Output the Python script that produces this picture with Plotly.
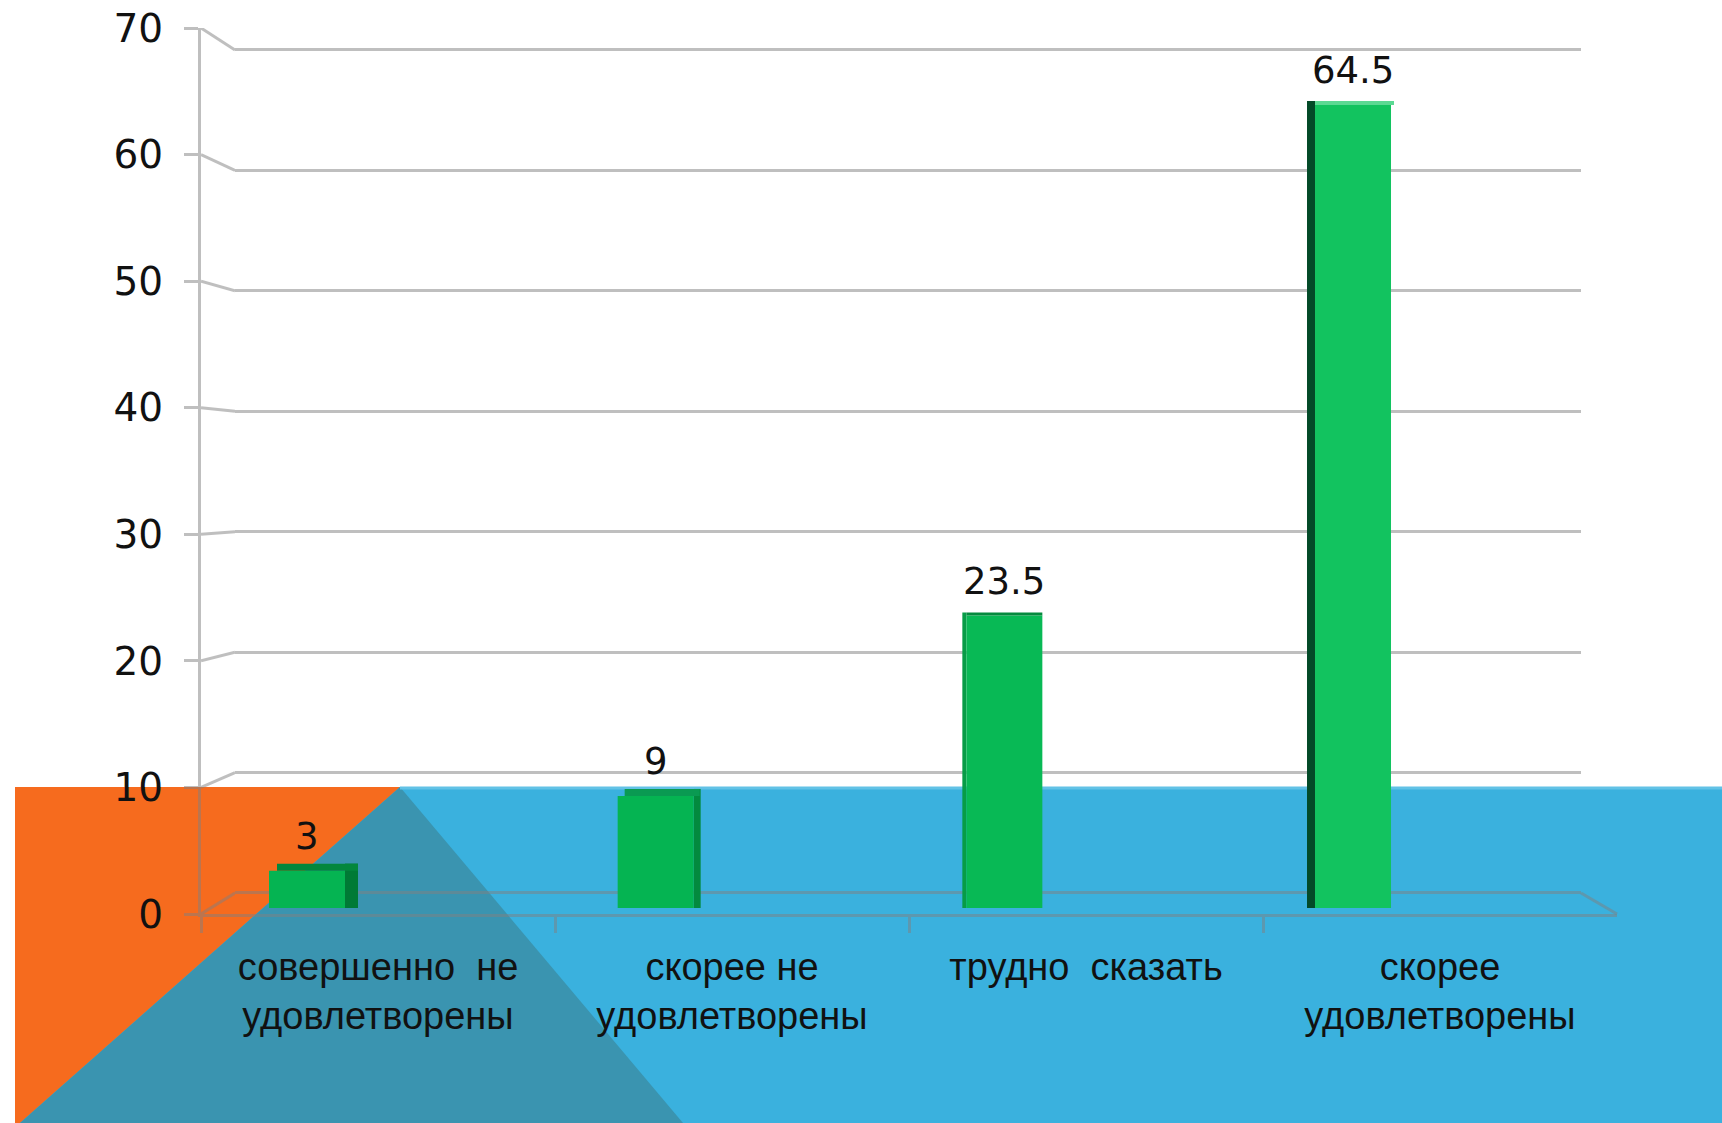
import plotly.graph_objects as go

# ---------------- data ----------------
categories = ["совершенно  не<br>удовлетворены", "скорее не<br>удовлетворены",
              "трудно  сказать", "скорее<br>удовлетворены"]
values = [3, 9, 23.5, 64.5]
y_ticks = [0, 10, 20, 30, 40, 50, 60, 70]

# ---------------- geometry / style (pixels of a 1722x1123 canvas) ----------------
W, H = 1722, 1123
fx = lambda p: p / W
fy = lambda p: 1 - p / H

FRONT_L, FRONT_R = 201, 1617        # front axis box
FRONT_BOTTOM, FRONT_TOP = 914, 28
BACK_L, BACK_R = 235, 1581          # back wall (gridlines)
BACK_BOTTOM, BACK_TOP = 893, 50
BAR_BASE = 908
K = 12.45                            # px per unit for bars
BAR_C0, BAR_STEP = 307.0, 348.67     # bar centre px of first bar, spacing
U = BAR_STEP                         # px per category unit on bar axis

GRID = "rgba(128,128,128,0.5)"
FONT = "DejaVu Sans"
CAT_FONT = "Liberation Sans"
TXT = "#111111"

front_col = ["#05B452", "#05B452", "#08B955", "#12C35F"]
side_col = ["#007A35", "#038A3E", "#079C47", "#034A28"]
side_w_px = [13, 7, 4, 8]
side_right = [True, True, False, False]
top_col = ["#03873D", "#0A9A52", "#058A3E", "#5CD993"]
top_depth_px = [7, 7, 3, 4]
top_start_px = [-30, -31, -38, -38]
top_w_px = [81, 75, 76, 79]

half = 38 / U
side_offset = [half if r else -half - w / U for r, w in zip(side_right, side_w_px)]
side_width = [w / U for w in side_w_px]

fig = go.Figure()

# invisible grid-subplot helper trace (x / y)
fig.add_trace(go.Scatter(x=[0], y=[0], mode="markers", marker=dict(opacity=0),
                         hoverinfo="skip", showlegend=False, xaxis="x", yaxis="y"))

# bar faces (x2 / y2)
fig.add_trace(go.Bar(x=categories, y=[v + d / K for v, d in zip(values, top_depth_px)],
                     width=side_width, offset=side_offset,
                     marker=dict(color=side_col, line=dict(width=0)),
                     hoverinfo="skip", showlegend=False, xaxis="x2", yaxis="y2"))
fig.add_trace(go.Bar(x=categories, y=values, width=2 * half, offset=-half,
                     marker=dict(color=front_col, line=dict(width=0)),
                     showlegend=False, xaxis="x2", yaxis="y2"))
fig.add_trace(go.Bar(x=categories, y=[d / K for d in top_depth_px], base=values,
                     width=[w / U for w in top_w_px], offset=[s / U for s in top_start_px],
                     marker=dict(color=top_col, line=dict(width=0)),
                     hoverinfo="skip", showlegend=False, xaxis="x2", yaxis="y2"))

# category-label subplot (x3 / y3)
fig.add_trace(go.Scatter(x=categories, y=[0] * len(categories), mode="markers",
                         marker=dict(opacity=0), hoverinfo="skip", showlegend=False,
                         xaxis="x3", yaxis="y3"))

# perspective connectors from front ticks to back gridlines (x4 / y3)
k3 = (FRONT_BOTTOM - FRONT_TOP) / 70
kb = (BACK_BOTTOM - BACK_TOP) / 70
cx, cy = [], []
for v in y_ticks:
    back_px = BACK_BOTTOM - kb * v
    cx += [0, 1, None]
    cy += [v, (FRONT_BOTTOM - back_px) / k3, None]
fig.add_trace(go.Scatter(x=cx, y=cy, mode="lines", line=dict(color=GRID, width=3),
                         hoverinfo="skip", showlegend=False, xaxis="x4", yaxis="y3"))

# value labels
for c, v in zip(categories, values):
    fig.add_annotation(x=c, y=v, xref="x2", yref="y2", text=f"{v:g}", showarrow=False,
                       yanchor="middle", yshift=34,
                       font=dict(family=FONT, size=37, color=TXT))

# background shapes
shapes = [
    dict(type="rect", xref="paper", yref="paper", x0=fx(15), x1=1, y0=0, y1=fy(787),
         fillcolor="#3AB1DE", line=dict(width=0), layer="below"),
    dict(type="path", xref="paper", yref="paper",
         path=f"M {fx(15)},{fy(787)} L {fx(400)},{fy(787)} L {fx(20)},{fy(1123)} L {fx(15)},{fy(1123)} Z",
         fillcolor="#F66B1E", line=dict(width=0), layer="below"),
    dict(type="path", xref="paper", yref="paper",
         path=f"M {fx(400)},{fy(787)} L {fx(683)},{fy(1123)} L {fx(20)},{fy(1123)} Z",
         fillcolor="#3A94B0", line=dict(width=0), layer="below"),
    dict(type="line", xref="paper", yref="paper", x0=fx(400), x1=1, y0=fy(788), y1=fy(788),
         line=dict(color="#62C2E6", width=3), layer="below"),
    dict(type="line", xref="paper", yref="paper", x0=fx(BACK_R), x1=fx(FRONT_R),
         y0=fy(BACK_BOTTOM), y1=fy(FRONT_BOTTOM), line=dict(color=GRID, width=3)),
]

lo = (BACK_L - BAR_C0) / U
hi = (BACK_R - BAR_C0) / U
E = 0.1  # small range pad so edge gridlines (0 and 70) are drawn

fig.update_layout(
    width=W, height=H, margin=dict(l=0, r=0, t=0, b=0, autoexpand=False),
    paper_bgcolor="white", plot_bgcolor="rgba(0,0,0,0)",
    showlegend=False, barmode="overlay", shapes=shapes,
    xaxis=dict(domain=[fx(BACK_L), fx(BACK_R)], range=[0, 1], visible=False, anchor="y",
               automargin=False),
    yaxis=dict(domain=[fy(BACK_BOTTOM + E * kb), fy(BACK_TOP - E * kb)], range=[-E, 70 + E],
               tickvals=y_ticks, showgrid=True, gridcolor=GRID, gridwidth=3, zeroline=False,
               showticklabels=False, ticks="", showline=False, anchor="x", automargin=False),
    xaxis2=dict(domain=[fx(BACK_L), fx(BACK_R)], type="category", categoryorder="array",
                categoryarray=categories, range=[lo, hi], visible=False, anchor="y2",
                automargin=False),
    yaxis2=dict(domain=[fy(FRONT_BOTTOM), fy(FRONT_TOP)],
                range=[-(FRONT_BOTTOM - BAR_BASE) / K, (BAR_BASE - FRONT_TOP) / K],
                visible=False, anchor="x2", automargin=False),
    xaxis3=dict(domain=[fx(FRONT_L), fx(FRONT_R)], type="category", categoryorder="array",
                categoryarray=categories, range=[-0.5, len(categories) - 0.5],
                tickson="boundaries", ticks="outside", ticklen=16, tickwidth=3,
                tickcolor=GRID, showline=True, linecolor=GRID, linewidth=3,
                showgrid=False, zeroline=False, anchor="y3", automargin=False,
                ticklabelstandoff=17,
                tickfont=dict(family=CAT_FONT, size=38, color=TXT)),
    yaxis3=dict(domain=[fy(FRONT_BOTTOM), fy(FRONT_TOP)], range=[0, 70], tickvals=y_ticks,
                ticks="outside", ticklen=14, tickwidth=3, tickcolor=GRID,
                showline=True, linecolor=GRID, linewidth=3, showgrid=False,
                zeroline=False, anchor="x3", ticklabelstandoff=13, automargin=False,
                tickfont=dict(family=FONT, size=39, color=TXT)),
    xaxis4=dict(domain=[fx(FRONT_L), fx(BACK_L)], range=[0, 1], visible=False, anchor="y3",
                automargin=False),
)

fig.write_html("out.html", config={"displayModeBar": False},
               post_script="document.body.style.margin='0';document.body.style.overflow='hidden';")
